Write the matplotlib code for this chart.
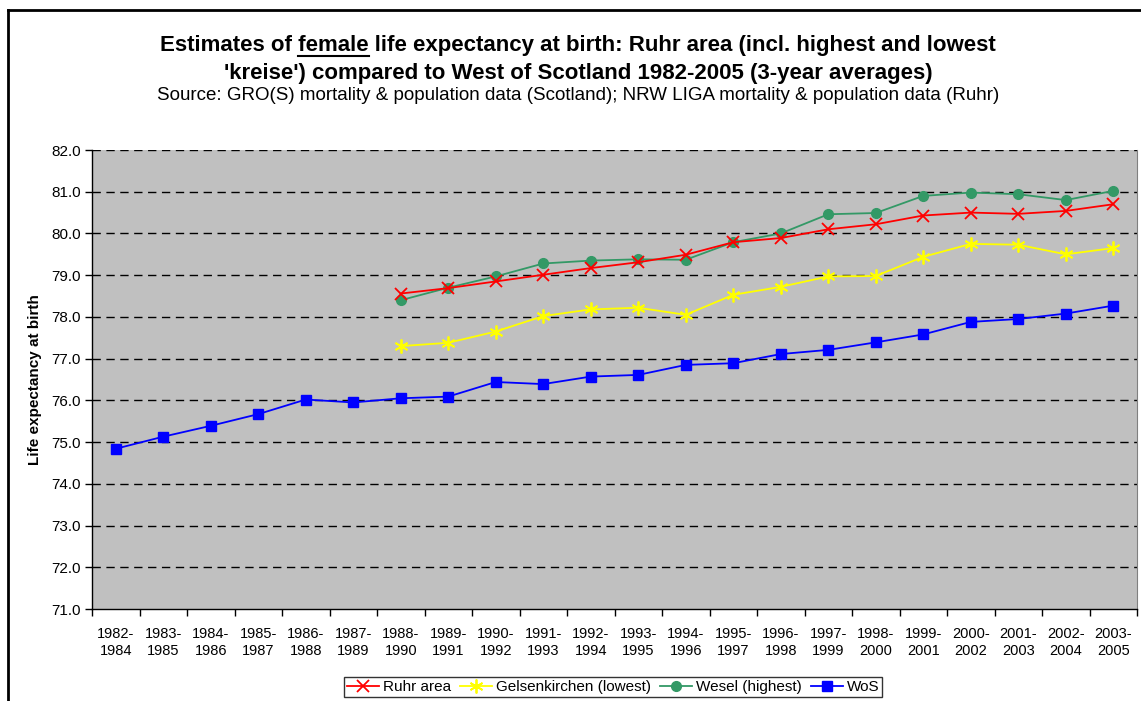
import matplotlib
matplotlib.use("Agg")
import matplotlib.pyplot as plt
from matplotlib.lines import Line2D
import numpy as np

plt.rcParams['font.family'] = ['Liberation Sans', 'DejaVu Sans']

# periods (3-year averages)
periods = ["1982-\n1984", "1983-\n1985", "1984-\n1986", "1985-\n1987", "1986-\n1988",
           "1987-\n1989", "1988-\n1990", "1989-\n1991", "1990-\n1992", "1991-\n1993",
           "1992-\n1994", "1993-\n1995", "1994-\n1996", "1995-\n1997", "1996-\n1998",
           "1997-\n1999", "1998-\n2000", "1999-\n2001", "2000-\n2002", "2001-\n2003",
           "2002-\n2004", "2003-\n2005"]

# Ruhr series start at 1988-1990
ruhr = [78.56, 78.69, 78.85, 79.01, 79.17, 79.31, 79.49, 79.79, 79.89,
        80.10, 80.22, 80.43, 80.50, 80.47, 80.54, 80.70]
gelsenkirchen = [77.30, 77.38, 77.65, 78.02, 78.18, 78.22, 78.05, 78.53, 78.72,
                 78.97, 78.98, 79.44, 79.75, 79.73, 79.50, 79.65]
wesel = [78.40, 78.70, 78.97, 79.28, 79.35, 79.38, 79.37, 79.79, 80.00,
         80.46, 80.49, 80.90, 80.98, 80.94, 80.80, 81.02]
wos = [74.84, 75.13, 75.39, 75.67, 76.02, 75.95, 76.05, 76.09, 76.44, 76.39, 76.57,
       76.61, 76.85, 76.89, 77.11, 77.21, 77.39, 77.58, 77.88, 77.95, 78.08, 78.27]

W, H = 1141, 701
fig = plt.figure(figsize=(W / 100, H / 100), dpi=100)
ax = fig.add_axes([92 / W, 1 - 609 / H, (1137 - 92) / W, (609 - 150) / H])
ax.set_facecolor('#C0C0C0')

x_all = np.arange(len(periods))
x_ruhr = x_all[len(periods) - len(ruhr):]

ax.plot(x_ruhr, ruhr, color='#FF0000', marker='x', markersize=8, mew=1.3, lw=1.3,
        label='Ruhr area', zorder=4)
ax.plot(x_ruhr, gelsenkirchen, color='#FFFF00', marker=(6, 2, 0), markersize=10, mew=1.3,
        lw=1.3, label='Gelsenkirchen (lowest)', zorder=3)
ax.plot(x_ruhr, wesel, color='#339966', marker='o', markersize=7, lw=1.3,
        label='Wesel (highest)', zorder=3)
ax.plot(x_all, wos, color='#0000FF', marker='s', markersize=6.5, lw=1.3,
        label='WoS', zorder=3)

ax.set_xlim(-0.5, len(periods) - 0.5)
ax.set_ylim(71, 82)
ax.set_yticks(np.arange(71, 83, 1))
ax.set_yticklabels([f"{v:.1f}" for v in range(71, 83)])
ax.set_xticks(x_all)
ax.set_xticklabels(periods, linespacing=1.3)
ax.set_xticks(np.arange(-0.5, len(periods), 1), minor=True)
ax.tick_params(axis='x', which='major', length=0, pad=13, labelsize=10.5)
ax.tick_params(axis='x', which='minor', length=5, direction='out', width=1)
ax.tick_params(axis='y', length=5, width=1, direction='out', labelsize=11, pad=3)

for v in range(72, 83):
    ax.axhline(v, color='black', lw=1, dashes=(6, 4), zorder=1)

ax.spines['top'].set_visible(False)
ax.spines['right'].set_color('#808080')
ax.spines['left'].set_linewidth(1)
ax.spines['bottom'].set_linewidth(1)

ax.set_ylabel('Life expectancy at birth', fontweight='bold', fontsize=11, labelpad=7)

# titles
cx = 578 / W
tsize = 16
t1 = fig.text(cx, 1 - 46 / H, "Estimates of female life expectancy at birth: Ruhr area (incl. highest and lowest",
              ha='center', va='center', fontsize=tsize, fontweight='bold')
fig.text(cx, 1 - 73 / H, "'kreise') compared to West of Scotland 1982-2005 (3-year averages)",
         ha='center', va='center', fontsize=tsize, fontweight='bold')
fig.text(cx, 1 - 96 / H, "Source: GRO(S) mortality & population data (Scotland); NRW LIGA mortality & population data (Ruhr)",
         ha='center', va='center', fontsize=13.5)

# underline "female"
fig.canvas.draw()
r = fig.canvas.get_renderer()
bb = t1.get_window_extent(r)
pre = fig.text(0, 0, "Estimates of ", fontsize=tsize, fontweight='bold')
word = fig.text(0, 0, "female", fontsize=tsize, fontweight='bold')
wp = pre.get_window_extent(r).width
ww = word.get_window_extent(r).width
pre.remove()
word.remove()
x0 = (bb.x0 + wp) / W
x1 = (bb.x0 + wp + ww) / W
yl = (bb.y0 + 1) / H
fig.add_artist(Line2D([x0, x1], [yl, yl], color='black', lw=1.5, transform=fig.transFigure))

leg = fig.legend(loc='center', bbox_to_anchor=(613 / W, 1 - 687 / H), ncol=4, frameon=True,
                 fancybox=False, edgecolor='black', fontsize=11, handlelength=2.1,
                 columnspacing=0.6, handletextpad=0.25, borderpad=0.2, borderaxespad=0)
leg.get_frame().set_linewidth(1)

# outer chart border (cut at right and bottom)
fig.add_artist(Line2D([8 / W, 8 / W], [0, 1 - 10 / H], color='black', lw=2, transform=fig.transFigure))
fig.add_artist(Line2D([8 / W, 1], [1 - 10 / H, 1 - 10 / H], color='black', lw=2, transform=fig.transFigure))

fig.savefig('out.png', dpi=100)
